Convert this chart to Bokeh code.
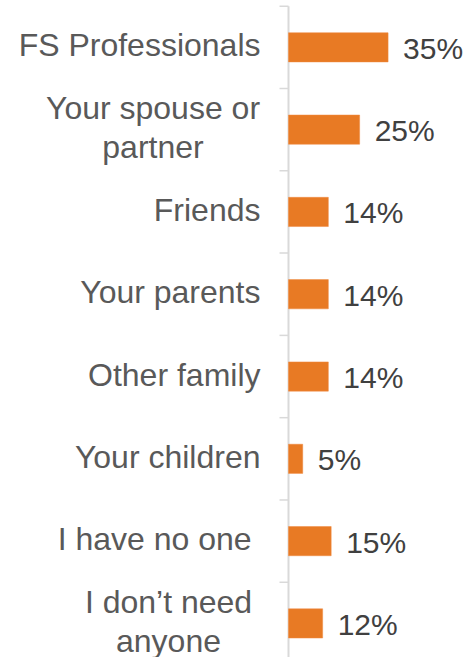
import math
from bokeh.plotting import figure
from bokeh.models import ColumnDataSource, Range1d
from bokeh.core.properties import value
from bokeh.embed import file_html
from bokeh.resources import INLINE

categories = ["FS Professionals", "Your spouse or\npartner", "Friends", "Your parents",
              "Other family", "Your children", "I have no one\u00a0", "I don\u2019t need\nanyone"]
values = [35, 25, 14, 14, 14, 5, 15, 12]
value_labels = [f"{v}%" for v in values]

# category label styling (offset in px from the axis line, alignment)
label_dx = [-28, -135.5, -28, -28, -28, -28, -28, -120]
label_align = ["right", "center", "right", "right", "right", "right", "right", "center"]

idx = list(range(len(categories)))
src = ColumnDataSource(dict(y=idx, v=values, lbl=value_labels, cat=categories,
                            zero=[0] * len(idx), dx=label_dx, al=label_align))
bounds = [i - 0.5 for i in range(len(categories) + 1)]
bsrc = ColumnDataSource(dict(y=bounds, zero=[0] * len(bounds)))

FONT = "Liberation Sans"
p = figure(width=472, height=657, output_backend="svg", toolbar_location=None,
           x_axis_location=None, y_axis_location=None,
           x_range=Range1d(-101.23, 64.67), y_range=Range1d(start=7.414, end=-0.569),
           min_border_left=0, min_border_right=0, min_border_top=0, min_border_bottom=0)
p.outline_line_color = None
p.grid.visible = False
p.background_fill_color = "white"
p.border_fill_color = "white"

# axis line and tick marks
p.segment(x0=0, y0=bounds[0], x1=0, y1=bounds[-1] + 1, line_color="#D9D9D9", line_width=2)
p.ray(x="zero", y="y", source=bsrc, length=9, length_units="screen", angle=math.pi,
      line_color="#D9D9D9", line_width=1.5)

p.hbar(y="y", right="v", left=0, height=0.355, source=src,
       fill_color="#E87A24", line_color="#F08A40", line_width=0.5)

p.text(x="v", y="y", text="lbl", source=src, x_offset=15, y_offset=1,
       text_align="left", text_baseline="middle",
       text_font=value(FONT), text_font_size="30px", text_color="#404040")

p.text(x="zero", y="y", text="cat", source=src, x_offset="dx", y_offset=-2,
       text_align="al", text_baseline="middle", text_line_height=1.1,
       text_font=value(FONT), text_font_size="32px", text_color="#595959")

open("out.html", "w").write(file_html(p, INLINE))
